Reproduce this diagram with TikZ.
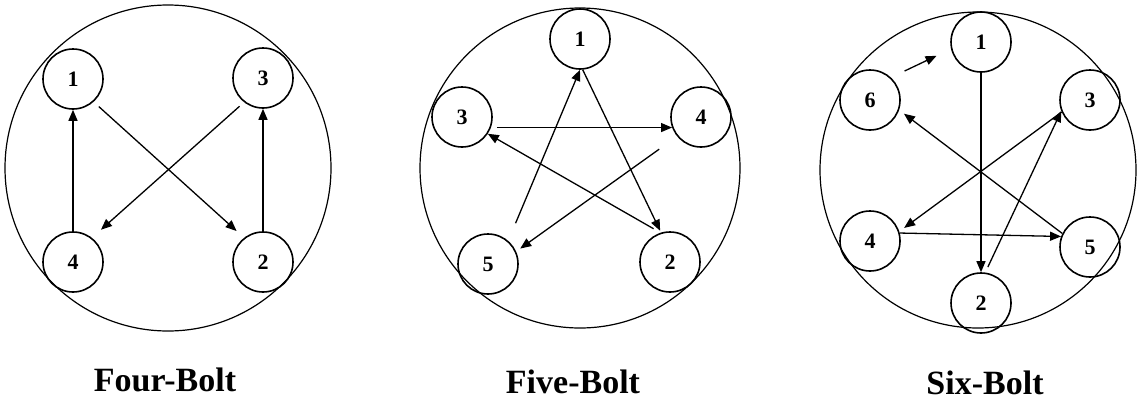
\documentclass[tikz,border=0pt]{standalone}
\usepackage{fontspec}
\setmainfont{Liberation Serif}
\usetikzlibrary{arrows.meta}

\begin{document}
\begin{tikzpicture}[
    x=1pt, y=-1pt,
    >={Triangle[length=11pt, width=9pt]},
    line width=1.3pt,
    plate/.style={draw, circle, line width=1.2pt, minimum size=#1, inner sep=0pt},
    bolt/.style={draw, circle, line width=1.6pt, minimum size=60pt, inner sep=0pt,
                 font=\fontsize{22}{26}\selectfont\bfseries},
    title/.style={font=\fontsize{34}{40}\selectfont\bfseries},
]
\useasboundingbox (0,0) rectangle (1137,402);

% Four-bolt pattern
\node[plate=326pt] (p4) at (168,168) {};
\node[bolt] (a1) at (73,79) {1};
\node[bolt] (a2) at (263,262) {2};
\node[bolt] (a3) at (263,78) {3};
\node[bolt] (a4) at (73,262) {4};
\draw[->] (a4) -- (a1);
\draw[->, shorten <=7pt, shorten >=10pt] (a1.-48) -- (a2.128);
\draw[->] (a2) -- (a3);
\draw[->, shorten <=6pt, shorten >=12pt] (a3.232) -- (a4.52);
\node[title] (t4) at (165,380) {Four-Bolt};

% Five-bolt pattern
\node[plate=320pt] (p5) at (580,168) {};
\node[bolt] (b1) at (580,39) {1};
\node[bolt] (b2) at (670,262) {2};
\node[bolt] (b3) at (462,117) {3};
\node[bolt] (b4) at (701,117) {4};
\node[bolt] (b5) at (488,264) {5};
\draw[->, shorten >=2pt] (b1.-85) -- (b2.107);
\draw[->, shorten <=8pt] (b2.108) -- (b3.-33);
\draw[->, shorten <=6pt] (b3.-20) -- (b4.200);
\draw[->, shorten <=22pt, shorten >=5pt] (b4.219) -- (b5.24);
\draw[->, shorten <=19pt] (b5.49) -- (b1.-90);
\node[title] (t5) at (573,382) {Five-Bolt};

% Six-bolt pattern
\node[plate=316pt] (p6) at (978,170) {};
\node[bolt] (c1) at (981,42) {1};
\node[bolt] (c2) at (981,303) {2};
\node[bolt] (c3) at (1090,100) {3};
\node[bolt] (c4) at (870,241) {4};
\node[bolt] (c5) at (1090,247) {5};
\node[bolt] (c6) at (870,100) {6};
\draw[->] (c1) -- (c2);
\draw[->, shorten <=6pt] (c2.82) -- (c3.201);
\draw[->, shorten >=6pt] (c3.203) -- (c4.18);
\draw[->] (c4.15) -- (c5.160);
\draw[->, shorten >=6pt] (c5.154) -- (c6.-19);
\draw[->, shorten <=15pt, shorten >=16pt] (c6.47) -- (c1.193);
\node[title] (t6) at (985,383) {Six-Bolt};

\end{tikzpicture}
\end{document}
